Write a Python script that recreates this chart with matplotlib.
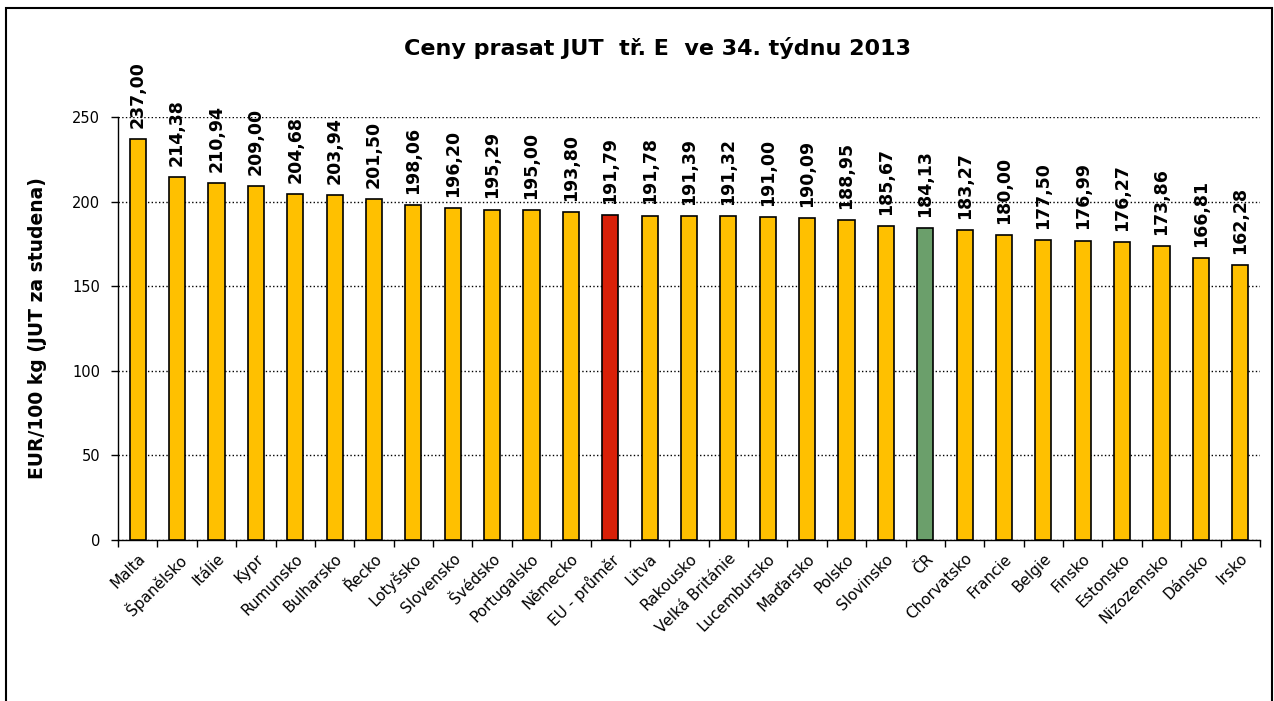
import matplotlib
matplotlib.use('Agg')
import matplotlib.pyplot as plt
from matplotlib.patches import Rectangle

# data
countries = ['Malta', 'Španělsko', 'Itálie', 'Kypr', 'Rumunsko', 'Bulharsko', 'Řecko',
             'Lotyšsko', 'Slovensko', 'Švédsko', 'Portugalsko', 'Německo', 'EU - průměr',
             'Litva', 'Rakousko', 'Velká Británie', 'Lucembursko', 'Maďarsko', 'Polsko',
             'Slovinsko', 'ČR', 'Chorvatsko', 'Francie', 'Belgie', 'Finsko', 'Estonsko',
             'Nizozemsko', 'Dánsko', 'Irsko']
prices = [237.00, 214.38, 210.94, 209.00, 204.68, 203.94, 201.50, 198.06, 196.20, 195.29,
          195.00, 193.80, 191.79, 191.78, 191.39, 191.32, 191.00, 190.09, 188.95, 185.67,
          184.13, 183.27, 180.00, 177.50, 176.99, 176.27, 173.86, 166.81, 162.28]
y_ticks = [0, 50, 100, 150, 200, 250]

colors = []
for c in countries:
    if c == 'EU - průměr':
        colors.append('#D92008')
    elif c == 'ČR':
        colors.append('#6B9F6B')
    else:
        colors.append('#FFC000')

fig = plt.figure(figsize=(12.74, 7.01), dpi=100)
ax = fig.add_axes([118/1274, 1 - 540/701, (1260 - 118)/1274, (540 - 117)/701])

x = list(range(len(countries)))
bars = ax.bar(x, prices, width=0.41, color=colors, edgecolor='black', linewidth=1.2, zorder=3)

for xi, v in zip(x, prices):
    ax.annotate(('%.2f' % v).replace('.', ','), (xi, v), xytext=(0, 8),
                textcoords='offset points', rotation=90, ha='center', va='bottom',
                fontsize=12.5, fontweight='bold', annotation_clip=False)

ax.set_xlim(-0.5, len(countries) - 0.5)
ax.set_ylim(0, 250)
ax.set_yticks(y_ticks)
ax.set_yticklabels([str(t) for t in y_ticks], fontsize=10.5)
ax.yaxis.grid(True, linestyle=':', color='black', linewidth=1.0, zorder=0)

ax.set_xticks(x)
ax.set_xticklabels(countries, rotation=45, ha='right', rotation_mode='anchor', fontsize=11)
ax.tick_params(axis='x', which='major', length=0, pad=8)
ax.set_xticks([i - 0.5 for i in range(len(countries) + 1)], minor=True)
ax.tick_params(axis='x', which='minor', length=5, direction='out', width=1)
ax.tick_params(axis='y', length=5, direction='out', width=1, pad=8)

for s in ['top', 'right']:
    ax.spines[s].set_visible(False)
for s in ['left', 'bottom']:
    ax.spines[s].set_linewidth(1.0)

ax.set_ylabel('EUR/100 kg (JUT za studena)', fontsize=13.5, fontweight='bold')
ax.yaxis.set_label_coords(-0.062, 0.5)

fig.text(657/1274, 1 - 48/701, 'Ceny prasat JUT  tř. E  ve 34. týdnu 2013',
         ha='center', va='center', fontsize=16, fontweight='bold')

# border round the chart
fig.patches.append(Rectangle((6/1274, -0.05), 1266/1274, 1.05 - 8/701,
                             transform=fig.transFigure, fill=False,
                             edgecolor='black', linewidth=1.5))

plt.savefig('out.png', dpi=100)
